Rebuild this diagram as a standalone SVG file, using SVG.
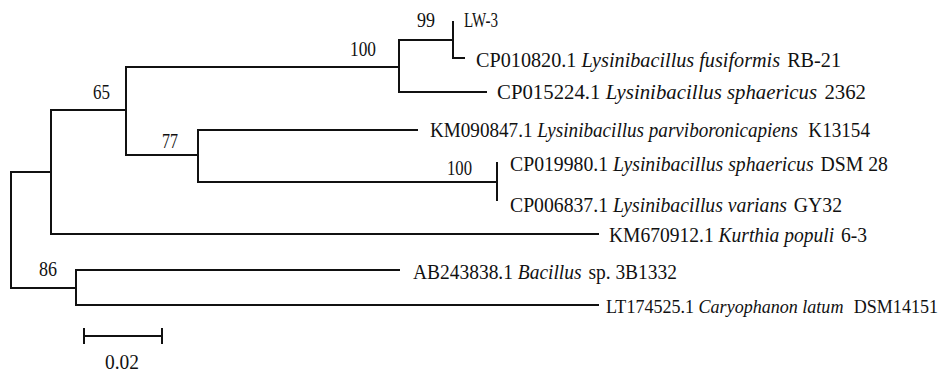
<svg xmlns="http://www.w3.org/2000/svg" width="944" height="372" viewBox="0 0 944 372">
<style>
.e{fill:none;stroke:#111;stroke-width:2;stroke-linecap:square}
text{font-family:"Liberation Serif","Times New Roman",serif;font-size:20px;fill:#111}
.i{font-style:italic}
</style>
<rect width="944" height="372" fill="#fff"/>
<g id="connectors" class="e">
<path d="M11,172V288"/>
<path d="M11,172H51"/>
<path d="M51,110V234"/>
<path d="M51,110H126"/>
<path d="M126,67V155"/>
<path d="M126,67H399"/>
<path d="M399,40V92"/>
<path d="M399,40H453"/>
<path d="M453,22V58H464"/>
<path d="M399,92H486"/>
<path d="M126,155H198"/>
<path d="M198,130V182"/>
<path d="M198,130H417"/>
<path d="M198,182H497"/>
<path d="M497,163V200"/>
<path d="M51,234H598"/>
<path d="M11,288H76"/>
<path d="M76,270V305"/>
<path d="M76,270H399"/>
<path d="M76,305H598"/>
</g>
<g id="bootstrap">
<text x="417" y="27" textLength="18" lengthAdjust="spacingAndGlyphs">99</text>
<text x="350" y="56" textLength="26" lengthAdjust="spacingAndGlyphs">100</text>
<text x="93" y="99" textLength="17" lengthAdjust="spacingAndGlyphs">65</text>
<text x="162" y="148" textLength="16" lengthAdjust="spacingAndGlyphs">77</text>
<text x="447" y="175" textLength="25" lengthAdjust="spacingAndGlyphs">100</text>
<text x="39" y="276" textLength="18" lengthAdjust="spacingAndGlyphs">86</text>
</g>
<g id="leaf-LW3"><text x="464" y="27" textLength="34" lengthAdjust="spacingAndGlyphs">LW-3</text></g>
<g id="leaf-CP010820"><text x="476" y="67" textLength="365" lengthAdjust="spacingAndGlyphs">CP010820.1 <tspan class="i">Lysinibacillus fusiformis</tspan><tspan dx="2"> RB-21</tspan></text></g>
<g id="leaf-CP015224"><text x="497" y="99" textLength="369" lengthAdjust="spacingAndGlyphs">CP015224.1 <tspan class="i">Lysinibacillus sphaericus</tspan><tspan dx="2"> 2362</tspan></text></g>
<g id="leaf-KM090847"><text x="430" y="137" textLength="440" lengthAdjust="spacingAndGlyphs">KM090847.1 <tspan class="i">Lysinibacillus parviboronicapiens</tspan><tspan dx="6"> K13154</tspan></text></g>
<g id="leaf-CP019980"><text x="510" y="171" textLength="378" lengthAdjust="spacingAndGlyphs">CP019980.1 <tspan class="i">Lysinibacillus sphaericus</tspan><tspan dx="2"> DSM 28</tspan></text></g>
<g id="leaf-CP006837"><text x="510" y="212" textLength="332" lengthAdjust="spacingAndGlyphs">CP006837.1 <tspan class="i">Lysinibacillus varians</tspan><tspan dx="2"> GY32</tspan></text></g>
<g id="leaf-KM670912"><text x="609" y="242" textLength="258" lengthAdjust="spacingAndGlyphs">KM670912.1 <tspan class="i">Kurthia populi</tspan><tspan dx="2"> 6-3</tspan></text></g>
<g id="leaf-AB243838"><text x="413" y="279" textLength="264" lengthAdjust="spacingAndGlyphs">AB243838.1 <tspan class="i">Bacillus</tspan><tspan dx="2"> sp.  3B1332</tspan></text></g>
<g id="leaf-LT174525"><text x="606" y="313" style="font-size:18.5px" textLength="332" lengthAdjust="spacingAndGlyphs">LT174525.1 <tspan class="i">Caryophanon latum</tspan><tspan dx="6"> DSM14151</tspan></text></g>
<g id="scale-bar">
<path class="e" d="M84,336H162M84,329V343M162,329V343"/>
<text x="105" y="369" textLength="34" lengthAdjust="spacingAndGlyphs">0.02</text>
</g>
</svg>
